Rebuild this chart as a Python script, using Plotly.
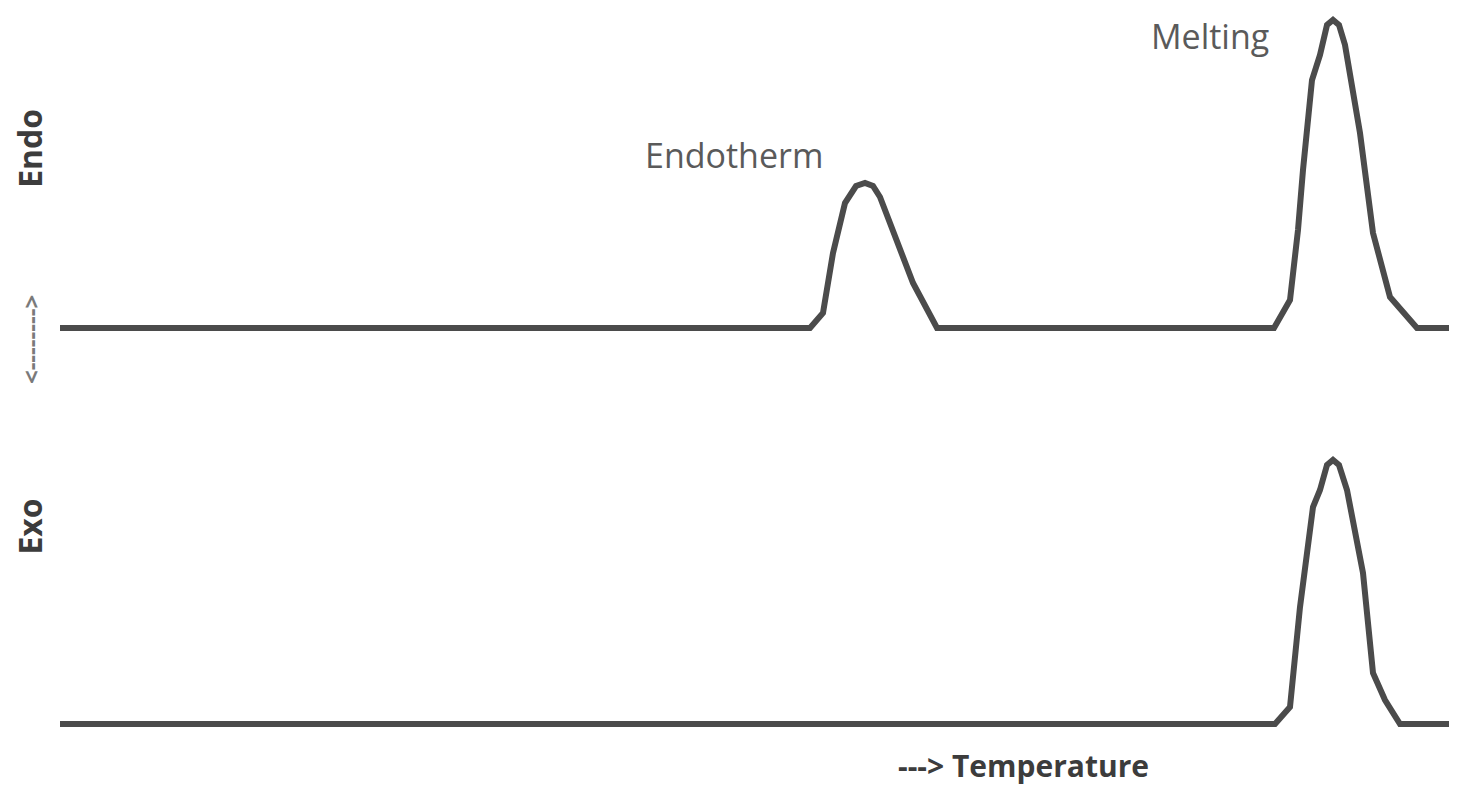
import plotly.graph_objects as go

# temperature (arbitrary units) and heat flow (arbitrary units)
temp_top = [0, 75.0, 76.3, 77.3, 78.5, 79.6, 80.5, 81.3, 82.0, 83.7, 85.3, 87.7,
            121.4, 123.0, 123.8, 124.3, 125.2, 126.0, 126.7, 127.3, 127.9, 128.5,
            130.0, 131.3, 133.0, 135.7, 139.7]
flow_top = [39.6, 39.6, 41.1, 47.1, 52.1, 53.8, 54.1, 53.8, 52.7, 48.1, 44.1, 39.6,
            39.6, 42.4, 49.4, 55.4, 64.4, 66.9, 69.9, 70.4, 69.9, 67.9,
            59.1, 49.1, 42.7, 39.6, 39.6]

temp_bottom = [0, 121.5, 123.0, 124.0, 125.3, 126.0, 126.7, 127.3, 127.9, 128.7,
               130.3, 131.3, 132.5, 134.0, 139.7]
flow_bottom = [0, 0, 1.7, 11.7, 21.7, 23.4, 25.9, 26.4, 25.9, 23.4,
               15.1, 5.1, 2.4, 0, 0]

labels = ['Endotherm', 'Melting']
label_x = [67.4, 115.0]
label_y = [56.9, 68.8]

line_color = '#4b4b4b'

fig = go.Figure()
fig.add_trace(go.Scatter(x=temp_top, y=flow_top, mode='lines',
                         line=dict(color=line_color, width=6)))
fig.add_trace(go.Scatter(x=temp_bottom, y=flow_bottom, mode='lines',
                         line=dict(color=line_color, width=6)))

for text, lx, ly in zip(labels, label_x, label_y):
    fig.add_annotation(x=lx, y=ly, text=text, showarrow=False,
                       xanchor='center', yanchor='middle',
                       font=dict(family='Open Sans', size=34, color='#5a5a5a'))

# axis captions
fig.add_annotation(x=0.694, y=-0.0175, xref='paper', yref='paper', text='<b>---> Temperature</b>',
                   showarrow=False, xanchor='center', yanchor='middle',
                   font=dict(family='Open Sans', size=30, color='#3c3c3c'))
fig.add_annotation(x=-0.0216, y=0.812, xref='paper', yref='paper', text='<b>Endo</b>', textangle=-90,
                   showarrow=False, xanchor='center', yanchor='middle',
                   font=dict(family='Open Sans', size=32, color='#3c3c3c'))
fig.add_annotation(x=-0.0216, y=0.555, xref='paper', yref='paper', text='<b><--------></b>', textangle=-90,
                   showarrow=False, xanchor='center', yanchor='middle',
                   font=dict(family='Open Sans', size=24, color='#7a7a7a'))
fig.add_annotation(x=-0.0216, y=0.303, xref='paper', yref='paper', text='<b>Exo</b>', textangle=-90,
                   showarrow=False, xanchor='center', yanchor='middle',
                   font=dict(family='Open Sans', size=32, color='#3c3c3c'))

fig.update_layout(
    width=1441, height=778,
    showlegend=False,
    plot_bgcolor='white', paper_bgcolor='white',
    margin=dict(l=52, r=0, t=0, b=34, autoexpand=False),
    xaxis=dict(range=[0, 138.9], visible=False),
    yaxis=dict(range=[-2.8, 71.6], visible=False),
)

fig.write_html("out.html")
